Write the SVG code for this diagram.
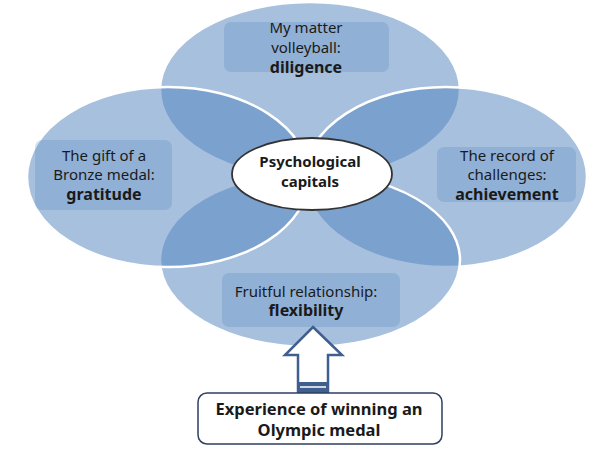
<svg xmlns="http://www.w3.org/2000/svg" width="600" height="450" viewBox="0 0 600 450">
<style>
.petal{fill:#4F81BD;fill-opacity:0.5;stroke:#FFFFFF;stroke-width:2.5}
.box{fill:#4F81BD;fill-opacity:0.25}
.t{font-family:"Noto Sans","Open Sans",sans-serif;font-size:15px;fill:#1a1a1a;text-anchor:middle}
.b{font-weight:bold;font-size:16px}
.arrow{fill:#FFFFFF;stroke:#3F5F8F;stroke-width:2.5;stroke-linejoin:miter}
</style>
<rect width="600" height="450" fill="#FFFFFF"/>
<g id="petals">
<g id="petal-top"><ellipse class="petal" cx="310" cy="90" rx="150" ry="88"/></g>
<g id="petal-right"><ellipse class="petal" cx="446" cy="177" rx="141" ry="90"/></g>
<g id="petal-bottom"><ellipse class="petal" cx="310" cy="260" rx="150" ry="87"/></g>
<g id="petal-left"><ellipse class="petal" cx="168" cy="177" rx="141" ry="90"/></g>
</g>
<g id="node-top">
<rect class="box" x="224" y="22" width="165" height="50" rx="7"/>
<text class="t" x="306" y="33">My matter</text>
<text class="t" x="306" y="53">volleyball:</text>
<text class="t b" x="306" y="73">diligence</text>
</g>
<g id="node-left">
<rect class="box" x="35" y="140" width="137" height="70" rx="7"/>
<text class="t" x="104" y="161">The gift of a</text>
<text class="t" x="104" y="180">Bronze medal:</text>
<text class="t b" x="104" y="200">gratitude</text>
</g>
<g id="node-right">
<rect class="box" x="437" y="147" width="139" height="55" rx="7"/>
<text class="t" x="507" y="161">The record of</text>
<text class="t" x="507" y="180">challenges:</text>
<text class="t b" x="507" y="200">achievement</text>
</g>
<g id="node-bottom">
<rect class="box" x="222" y="273" width="178" height="54" rx="7"/>
<text class="t" x="306" y="297">Fruitful relationship:</text>
<text class="t b" x="306" y="316">flexibility</text>
</g>
<g id="node-center">
<ellipse cx="312" cy="174" rx="80" ry="36" fill="#FFFFFF" stroke="#333333" stroke-width="1.8"/>
<text class="t b" x="310" y="167" style="font-size:15px">Psychological</text>
<text class="t b" x="310" y="187" style="font-size:15px">capitals</text>
</g>
<g id="connectors">
<path class="arrow" d="M313,327 L342,355 L328,355 L328,392 L298,392 L298,355 L285,355 Z"/>
<rect x="298" y="382" width="30" height="10" fill="#3F5F8F"/>
<line x1="300" y1="387" x2="326" y2="387" stroke="#FFFFFF" stroke-width="1.5"/>
</g>
<g id="node-source">
<rect x="198" y="393" width="244" height="51" rx="9" fill="#FFFFFF" stroke="#2F3F5F" stroke-width="1.5"/>
<text class="t b" x="319" y="415" style="font-size:16.5px">Experience of winning an</text>
<text class="t b" x="319" y="436" style="font-size:16.5px">Olympic medal</text>
</g>
</svg>
